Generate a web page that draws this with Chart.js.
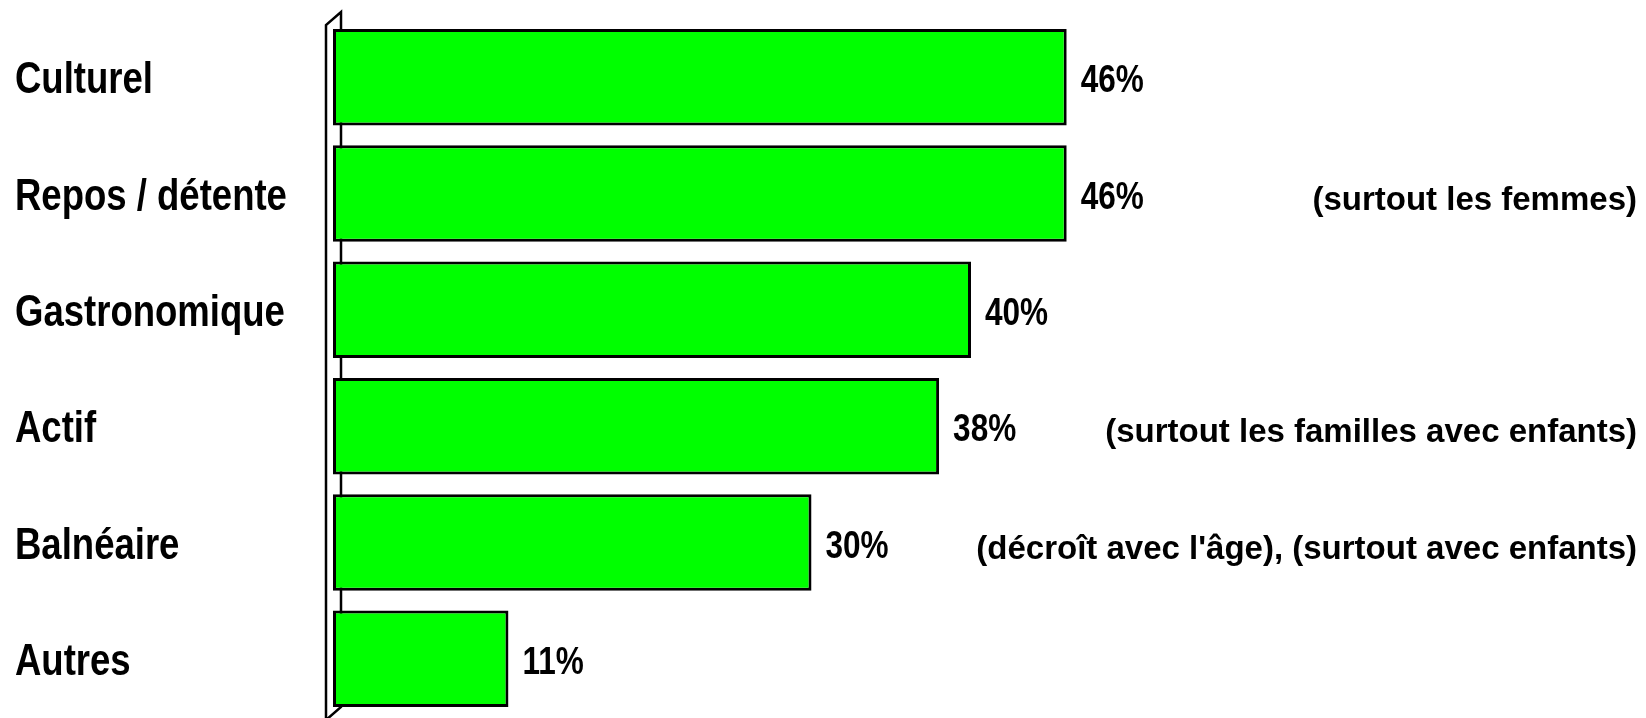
<!DOCTYPE html>
<html lang="fr">
<head>
    <meta charset="UTF-8">
    <title>Types de séjour</title>
    <script src="https://cdn.jsdelivr.net/npm/chart.js"></script>
    <style>
        html, body {
            margin: 0;
            padding: 0;
            background: #ffffff;
        }
        #wrap {
            width: 1646px;
            height: 718px;
        }
    </style>
</head>
<body>
    <div id="wrap">
        <canvas id="sejourChart" width="1646" height="718"></canvas>
    </div>

    <script>
        const categories = ['Culturel', 'Repos / détente', 'Gastronomique', 'Actif', 'Balnéaire', 'Autres'];
        const shares = [46, 46, 40, 38, 30, 11];
        const notes = ['', '(surtout les femmes)', '', '(surtout les familles avec enfants)', "(décroît avec l'âge), (surtout avec enfants)", ''];

        const sans = '"Liberation Sans", Arial, sans-serif';

        // condensed bold text: Arial Narrow is not around, so squeeze Arial instead
        function narrowText(ctx, text, x, y, size) {
            ctx.save();
            ctx.font = 'bold ' + size + 'px ' + sans;
            ctx.textAlign = 'left';
            ctx.textBaseline = 'alphabetic';
            ctx.translate(x, y);
            ctx.scale(0.83, 1);
            ctx.fillText(text, 0, 0);
            ctx.restore();
        }

        // back wall of the 3D frame, drawn behind the bars
        const wallPlugin = {
            id: 'wall',
            beforeDatasetsDraw(chart) {
                const ctx = chart.ctx;
                const a = chart.chartArea;
                const x1 = a.left - 7, x2 = a.left + 8;
                ctx.save();
                ctx.strokeStyle = '#000';
                ctx.lineWidth = 2.5;
                ctx.beginPath();
                ctx.moveTo(x1, a.bottom + 6);
                ctx.lineTo(x1, a.top + 6);
                ctx.lineTo(x2, a.top - 7);
                ctx.lineTo(x2, a.bottom - 10);
                ctx.lineTo(x1, a.bottom + 3);
                ctx.stroke();
                ctx.restore();
            }
        };

        // category names, percentages next to the bars and the comments on the right
        const labelPlugin = {
            id: 'barLabels',
            afterDatasetsDraw(chart) {
                const ctx = chart.ctx;
                const yScale = chart.scales.y;
                const meta = chart.getDatasetMeta(0);
                ctx.save();
                ctx.fillStyle = '#000';
                categories.forEach((name, i) => {
                    narrowText(ctx, name, 15, yScale.getPixelForTick(i) + 16, 44);
                });
                meta.data.forEach((bar, i) => {
                    narrowText(ctx, shares[i] + '%', bar.x + 14, bar.y + 15, 38);
                    if (notes[i]) {
                        ctx.font = 'bold 33px ' + sans;
                        ctx.textAlign = 'right';
                        ctx.textBaseline = 'middle';
                        ctx.fillText(notes[i], 1637, bar.y + 7);
                    }
                });
                ctx.restore();
            }
        };

        new Chart(document.getElementById('sejourChart'), {
            type: 'bar',
            data: {
                labels: categories,
                datasets: [{
                    data: shares,
                    backgroundColor: '#00ff00',
                    borderColor: '#000000',
                    borderWidth: 3,
                    borderSkipped: false,
                    barPercentage: 0.83,
                    categoryPercentage: 1.0
                }]
            },
            options: {
                indexAxis: 'y',
                responsive: false,
                animation: false,
                events: [],
                layout: {
                    padding: { left: 15, right: 37, top: 19, bottom: 1 }
                },
                scales: {
                    x: {
                        display: false,
                        min: 0,
                        max: 80
                    },
                    y: {
                        grid: { display: false, drawTicks: false },
                        border: { display: false },
                        ticks: { display: false },
                        afterFit(scale) {
                            scale.width = 318;
                        }
                    }
                },
                plugins: {
                    legend: { display: false },
                    tooltip: { enabled: false }
                }
            },
            plugins: [wallPlugin, labelPlugin]
        });
    </script>
</body>
</html>
